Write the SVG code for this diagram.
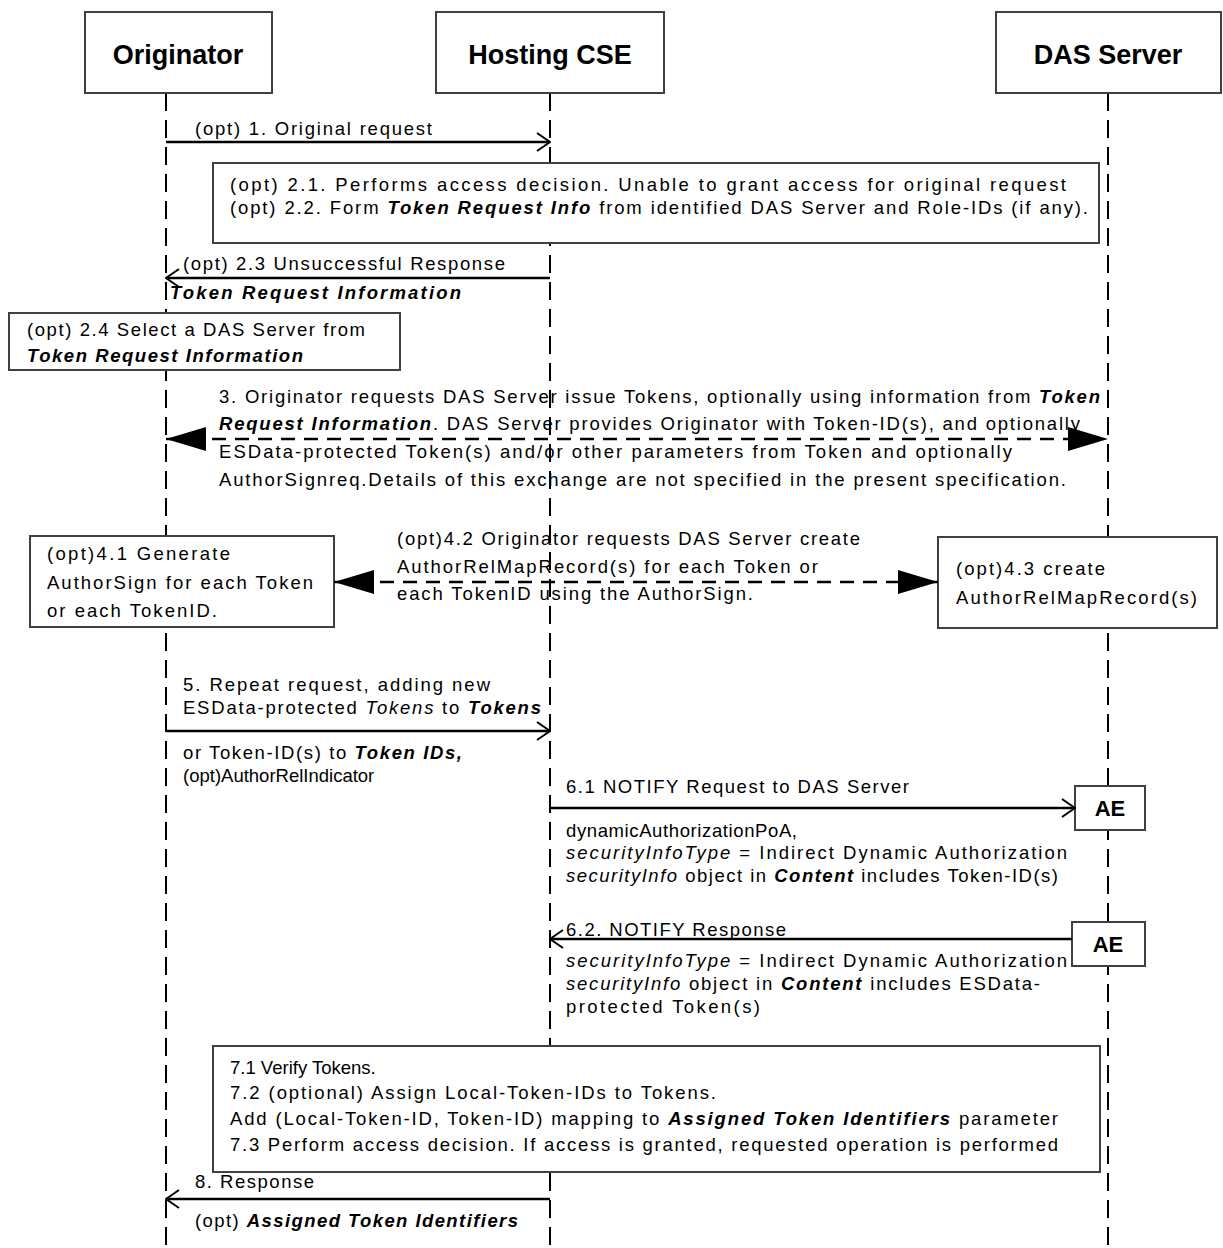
<svg xmlns="http://www.w3.org/2000/svg" width="1223" height="1248" viewBox="0 0 1223 1248">
<style>
.box{fill:#fff;stroke:#404040;stroke-width:2}
.life{stroke:#000;stroke-width:2;stroke-dasharray:18 9;fill:none}
.msg{stroke:#000;stroke-width:2.5;fill:none}
.dmsg{stroke:#000;stroke-width:2.5;stroke-dasharray:14 9;fill:none}
.t{font-family:"Liberation Sans",Arial,sans-serif;font-size:18.5px;fill:#000}
.h{font-family:"Liberation Sans",Arial,sans-serif;font-size:27px;font-weight:bold;fill:#000;text-anchor:middle}
.ae{font-family:"Liberation Sans",Arial,sans-serif;font-size:22px;font-weight:bold;fill:#000;text-anchor:middle}
.bi{font-weight:bold;font-style:italic}
.i{font-style:italic}
</style>
<defs>
<marker id="open" viewBox="0 0 15 20" refX="14" refY="10" markerWidth="15" markerHeight="20" orient="auto-start-reverse" markerUnits="userSpaceOnUse"><path d="M1,1 L14,10 L1,19" fill="none" stroke="#000" stroke-width="2"/></marker>
<marker id="tri" viewBox="0 0 40 24" refX="40" refY="12" markerWidth="40" markerHeight="24" orient="auto-start-reverse" markerUnits="userSpaceOnUse"><path d="M0,0 L40,12 L0,24 Z" fill="#000"/></marker>
</defs>
<rect width="1223" height="1248" fill="#fff"/>
<g id="lifelines">
<line class="life" x1="166" y1="93" x2="166" y2="1248"/>
<line class="life" x1="550" y1="93" x2="550" y2="1248"/>
<line class="life" x1="1108" y1="93" x2="1108" y2="1248"/>
</g>
<g id="originator"><rect class="box" x="85" y="12" width="187" height="81"/><text class="h" x="178" y="64">Originator</text></g>
<g id="hosting-cse"><rect class="box" x="436" y="12" width="228" height="81"/><text class="h" x="550" y="64">Hosting CSE</text></g>
<g id="das-server"><rect class="box" x="996" y="12" width="225" height="81"/><text class="h" x="1108" y="64">DAS Server</text></g>
<g id="note-2-1"><rect class="box" x="213" y="163" width="886" height="80"/>
<text class="t" x="230" y="191" textLength="836" lengthAdjust="spacing">(opt) 2.1. Performs access decision. Unable to grant access for original request</text>
<text class="t" x="230" y="214" textLength="858" lengthAdjust="spacing">(opt) 2.2.  Form <tspan class="bi">Token Request Info</tspan>  from identified DAS Server and Role-IDs (if any).</text></g>
<g id="note-2-4"><rect class="box" x="9" y="313" width="391" height="57"/>
<text class="t" x="27" y="336" textLength="338" lengthAdjust="spacing">(opt) 2.4 Select a DAS Server from</text>
<text class="t" x="27" y="362" textLength="276" lengthAdjust="spacing"><tspan class="bi">Token Request Information</tspan></text></g>
<g id="note-4-1"><rect class="box" x="30" y="536" width="304" height="91"/>
<text class="t" x="47" y="560" textLength="183" lengthAdjust="spacing">(opt)4.1 Generate</text>
<text class="t" x="47" y="589" textLength="266" lengthAdjust="spacing">AuthorSign for each Token</text>
<text class="t" x="47" y="617" textLength="170" lengthAdjust="spacing">or each TokenID.</text></g>
<g id="note-4-3"><rect class="box" x="938" y="537" width="279" height="91"/>
<text class="t" x="956" y="575" textLength="149" lengthAdjust="spacing">(opt)4.3 create</text>
<text class="t" x="956" y="604" textLength="241" lengthAdjust="spacing">AuthorRelMapRecord(s)</text></g>
<g id="ae-1"><rect class="box" x="1075" y="786" width="70" height="44"/><text class="ae" x="1110" y="816">AE</text></g>
<g id="ae-2"><rect class="box" x="1072" y="922" width="73" height="44"/><text class="ae" x="1108" y="952">AE</text></g>
<g id="note-7"><rect class="box" x="213" y="1046" width="887" height="126"/>
<text class="t" x="230" y="1074">7.1 Verify Tokens.</text>
<text class="t" x="230" y="1099" textLength="486" lengthAdjust="spacing">7.2  (optional) Assign  Local-Token-IDs to Tokens.</text>
<text class="t" x="230" y="1125" textLength="828" lengthAdjust="spacing">Add (Local-Token-ID, Token-ID) mapping to <tspan class="bi">Assigned Token Identifiers</tspan> parameter</text>
<text class="t" x="230" y="1151" textLength="828" lengthAdjust="spacing">7.3 Perform access decision. If access is granted, requested operation is performed</text></g>
<g id="connectors">
<line class="msg" x1="166" y1="142" x2="550" y2="142" marker-end="url(#open)"/>
<text class="t" x="195" y="135" textLength="237" lengthAdjust="spacing">(opt) 1. Original request</text>
<line class="msg" x1="550" y1="278" x2="166" y2="278" marker-end="url(#open)"/>
<text class="t" x="183" y="270" textLength="322" lengthAdjust="spacing">(opt) 2.3 Unsuccessful Response</text>
<text class="t" x="170" y="299" textLength="291" lengthAdjust="spacing"><tspan class="bi">Token Request Information</tspan></text>
<line class="dmsg" x1="166" y1="439" x2="1108" y2="439" marker-start="url(#tri)" marker-end="url(#tri)"/>
<text class="t" x="219" y="403" textLength="881" lengthAdjust="spacing">3. Originator requests DAS Server issue Tokens, optionally using information from <tspan class="bi">Token</tspan></text>
<text class="t" x="219" y="430" textLength="861" lengthAdjust="spacing"><tspan class="bi">Request Information</tspan>. DAS Server provides Originator with Token-ID(s), and optionally</text>
<text class="t" x="219" y="458" textLength="793" lengthAdjust="spacing">ESData-protected Token(s) and/or other parameters from Token and optionally</text>
<text class="t" x="219" y="486" textLength="847" lengthAdjust="spacing">AuthorSignreq.Details of this exchange are not specified in the present specification.</text>
<line class="dmsg" x1="334" y1="582" x2="938" y2="582" marker-start="url(#tri)" marker-end="url(#tri)"/>
<text class="t" x="397" y="545" textLength="463" lengthAdjust="spacing">(opt)4.2 Originator requests DAS Server create</text>
<text class="t" x="397" y="573" textLength="421" lengthAdjust="spacing">AuthorRelMapRecord(s) for each Token or</text>
<text class="t" x="397" y="600" textLength="356" lengthAdjust="spacing">each TokenID using the AuthorSign.</text>
<line class="msg" x1="166" y1="731" x2="550" y2="731" marker-end="url(#open)"/>
<text class="t" x="183" y="691" textLength="307" lengthAdjust="spacing">5. Repeat request, adding new</text>
<text class="t" x="183" y="714" textLength="358" lengthAdjust="spacing">ESData-protected <tspan class="i">Tokens</tspan> to <tspan class="bi">Tokens</tspan></text>
<text class="t" x="183" y="759" textLength="279" lengthAdjust="spacing">or Token-ID(s) to <tspan class="bi">Token IDs,</tspan></text>
<text class="t" x="183" y="782">(opt)AuthorRelIndicator</text>
<line class="msg" x1="550" y1="808" x2="1075" y2="808" marker-end="url(#open)"/>
<text class="t" x="566" y="793" textLength="343" lengthAdjust="spacing">6.1 NOTIFY Request to DAS Server</text>
<text class="t" x="566" y="837" textLength="231" lengthAdjust="spacing">dynamicAuthorizationPoA,</text>
<text class="t" x="566" y="859" textLength="501" lengthAdjust="spacing"><tspan class="i">securityInfoType</tspan> = Indirect Dynamic Authorization</text>
<text class="t" x="566" y="882" textLength="492" lengthAdjust="spacing"><tspan class="i">securityInfo</tspan> object in <tspan class="bi">Content</tspan> includes Token-ID(s)</text>
<line class="msg" x1="1072" y1="939" x2="550" y2="939" marker-end="url(#open)"/>
<text class="t" x="566" y="936" textLength="220" lengthAdjust="spacing">6.2. NOTIFY Response</text>
<text class="t" x="566" y="967" textLength="501" lengthAdjust="spacing"><tspan class="i">securityInfoType</tspan> = Indirect Dynamic Authorization</text>
<text class="t" x="566" y="990" textLength="474" lengthAdjust="spacing"><tspan class="i">securityInfo</tspan> object in <tspan class="bi">Content</tspan> includes ESData-</text>
<text class="t" x="566" y="1013" textLength="194" lengthAdjust="spacing">protected Token(s)</text>
<line class="msg" x1="550" y1="1199" x2="166" y2="1199" marker-end="url(#open)"/>
<text class="t" x="195" y="1188" textLength="119" lengthAdjust="spacing">8. Response</text>
<text class="t" x="195" y="1227" textLength="323" lengthAdjust="spacing">(opt) <tspan class="bi">Assigned Token Identifiers</tspan></text>
</g>
</svg>
